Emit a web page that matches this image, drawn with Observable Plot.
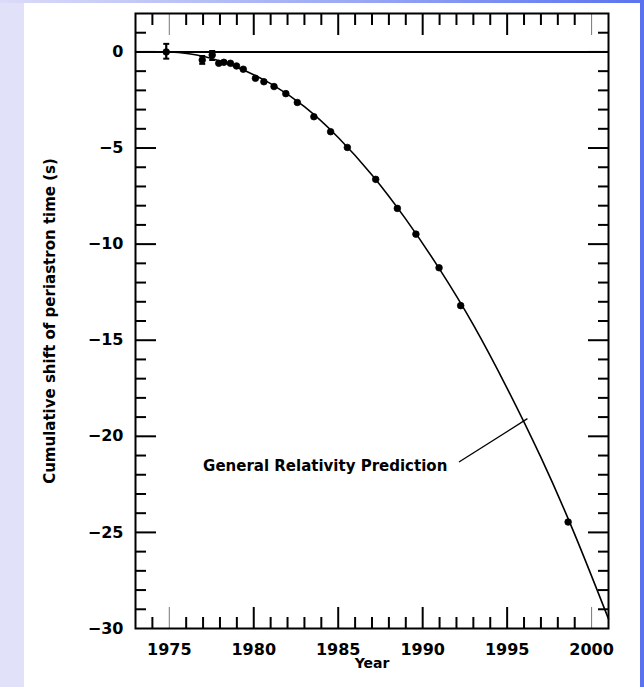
<!DOCTYPE html>
<html><head><meta charset="utf-8">
<script src="https://cdn.jsdelivr.net/npm/d3@7"></script>
<script src="https://cdn.jsdelivr.net/npm/@observablehq/plot@0.6"></script>
<style>
html,body{margin:0;padding:0;background:#fff;}
#page{position:relative;width:644px;height:687px;overflow:hidden;background:#fff;}
#leftbar{position:absolute;left:0;top:0;width:24px;height:687px;background:#e1e1f9;}
#topbar{position:absolute;left:0;top:0;width:644px;height:3px;background:linear-gradient(to right,#dcdcf8,#9aa8f4 55%,#5a72f0);}
#rightbar{position:absolute;left:640px;top:0;width:4px;height:687px;background:#5a72f0;}
#chart{position:absolute;left:0;top:0;}
</style></head>
<body><div id="page"><div id="leftbar"></div><div id="topbar"></div><div id="rightbar"></div><div id="chart"></div></div>
<script>
// Measured data points (year, cumulative shift in s)
const obsYears  = [1974.82, 1976.95, 1977.54, 1977.93, 1978.23, 1978.62, 1978.98, 1979.38, 1980.1, 1980.6, 1981.2, 1981.9, 1982.58, 1983.56, 1984.55, 1985.54, 1987.22, 1988.5, 1989.6, 1990.97, 1992.25, 1998.61];
const obsShift  = [0.0, -0.42, -0.16, -0.59, -0.54, -0.59, -0.73, -0.9, -1.37, -1.55, -1.8, -2.17, -2.63, -3.37, -4.15, -4.97, -6.63, -8.14, -9.48, -11.23, -13.2, -24.46];
// Error bars on the early points
const errYears  = [1974.82, 1976.95, 1977.54];
const errLow    = [-0.35, -0.62, -0.42];
const errHigh   = [0.42, -0.21, 0.05];
// General Relativity prediction curve
const grYears   = [1973, 1975, 1977, 1979, 1981, 1983, 1985, 1987, 1989, 1991, 1993, 1995, 1997, 1999, 2001];
const grShift   = [0.0, 0.0, -0.22, -0.8, -1.65, -2.85, -4.45, -6.4, -8.7, -11.3, -14.2, -17.5, -21.1, -25.1, -29.5];
// Ticks
const xMajor = [1980, 1985, 1990, 1995];
const xMajorThin = [1975, 2000];
const xLabels = [1975, 1980, 1985, 1990, 1995, 2000];
const xMinor = d3.range(1974, 2001).filter(d => d % 5 !== 0);
const yMajor = [0, -5, -10, -15, -20, -25];
const yLabels = [0, -5, -10, -15, -20, -25, -30];
const yMinor = d3.range(-29, 2).filter(d => d % 5 !== 0);
// Texts
const yTitle = "Cumulative shift of periastron time (s)";
const xTitle = "Year";
const annText = ["General Relativity Prediction"];
const annX = [1977.0], annY = [-21.56];
const leadX1 = [1992.15], leadY1 = [-21.34], leadX2 = [1996.2], leadY2 = [-19.08];

const obs = obsYears.map((x, i) => ({x, y: obsShift[i]}));
const err = errYears.map((x, i) => ({x, lo: errLow[i], hi: errHigh[i]}));
const caps = err.flatMap(d => [{x: d.x, y: d.lo}, {x: d.x, y: d.hi}]);
const gr = grYears.map((x, i) => ({x, y: grShift[i]}));
const ann = annText.map((t, i) => ({t, x: annX[i], y: annY[i]}));
const lead = leadX1.map((x1, i) => ({x1, y1: leadY1[i], x2: leadX2[i], y2: leadY2[i]}));

const capSymbol = {draw(ctx, size) { const w = Math.sqrt(size / Math.PI); ctx.moveTo(-w, 0); ctx.lineTo(w, 0); }};
const noText = () => "";

const plot = Plot.plot({
  width: 640, height: 687,
  marginLeft: 135, marginRight: 32, marginTop: 13, marginBottom: 59,
  x: {domain: [1973, 2001]},
  y: {domain: [-30, 2]},
  style: {background: "transparent", fontFamily: "'DejaVu Sans', sans-serif", fontSize: "16px", color: "#000"},
  marks: [
    // ticks, inward, on all four sides
    Plot.axisX(xMajor, {anchor: "bottom", tickSize: -21, strokeWidth: 2, tickFormat: noText, label: null}),
    Plot.axisX(xMajorThin, {anchor: "bottom", tickSize: -21, strokeWidth: 1, stroke: "#777", tickFormat: noText, label: null}),
    Plot.axisX(xMinor, {anchor: "bottom", tickSize: -11, strokeWidth: 2, tickFormat: noText, label: null}),
    Plot.axisX(xMajor, {anchor: "top", tickSize: -21, strokeWidth: 2, tickFormat: noText, label: null}),
    Plot.axisX(xMajorThin, {anchor: "top", tickSize: -21, strokeWidth: 1, stroke: "#777", tickFormat: noText, label: null}),
    Plot.axisX(xMinor, {anchor: "top", tickSize: -11, strokeWidth: 2, tickFormat: noText, label: null}),
    Plot.axisX(xLabels, {anchor: "bottom", tickSize: 0, tickPadding: 15, tickFormat: d => String(d), label: null, fontSize: 16, fontWeight: "bold"}),
    Plot.axisY(yMajor, {anchor: "left", tickSize: -21, strokeWidth: 2, tickFormat: noText, label: null}),
    Plot.axisY(yMinor, {anchor: "left", tickSize: -11, strokeWidth: 2, tickFormat: noText, label: null}),
    Plot.axisY(yMajor, {anchor: "right", tickSize: -21, strokeWidth: 2, tickFormat: noText, label: null}),
    Plot.axisY(yMinor, {anchor: "right", tickSize: -11, strokeWidth: 2, tickFormat: noText, label: null}),
    Plot.axisY(yLabels, {anchor: "left", tickSize: 0, tickPadding: 12, tickFormat: d => (d < 0 ? "\u2212" + Math.abs(d) : String(d)), label: null, fontSize: 16, fontWeight: "bold"}),
    Plot.frame({stroke: "#000", strokeWidth: 2}),
    Plot.ruleY([0], {stroke: "#000", strokeWidth: 2}),
    // GR prediction curve
    Plot.line(gr, {x: "x", y: "y", curve: "natural", stroke: "#000", strokeWidth: 1.6}),
    // error bars
    Plot.ruleX(err, {x: "x", y1: "lo", y2: "hi", stroke: "#000", strokeWidth: 2.2}),
    Plot.dot(caps, {x: "x", y: "y", symbol: capSymbol, r: 3, stroke: "#000", strokeWidth: 2}),
    // observations
    Plot.dot(obs, {x: "x", y: "y", r: 3.3, fill: "#000", stroke: "#000", strokeWidth: 0.8}),
    // annotation
    Plot.text(ann, {x: "x", y: "y", text: "t", textAnchor: "start", fontSize: 15, fontWeight: "bold", fill: "#000"}),
    Plot.link(lead, {x1: "x1", y1: "y1", x2: "x2", y2: "y2", stroke: "#000", strokeWidth: 1.3}),
    // axis titles
    Plot.text([yTitle], {text: d => d, frameAnchor: "left", textAnchor: "middle", dx: -85, rotate: -90, fontSize: 15, fontWeight: "bold", fill: "#000"}),
    Plot.text([xTitle], {text: d => d, frameAnchor: "bottom", textAnchor: "middle", dy: 39, fontSize: 14, fontWeight: "bold", fill: "#000"})
  ]
});
document.getElementById("chart").appendChild(plot);
</script>
</body></html>
